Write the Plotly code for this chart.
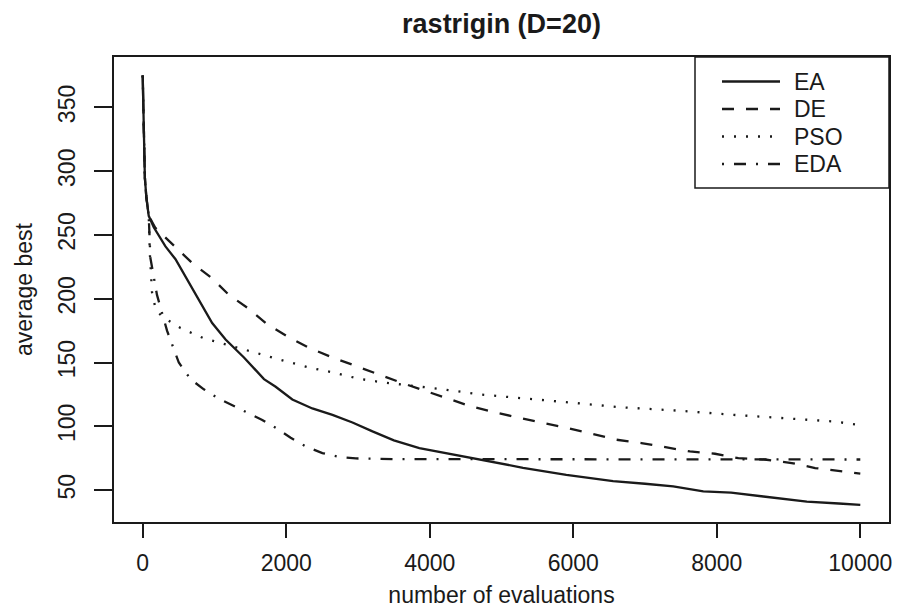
import plotly.graph_objects as go

# ---- data ----
ea_x = [0, 10, 20, 30, 50, 84, 154, 317, 457, 619, 782, 968, 1155, 1411, 1690, 1853, 2085,
        2364, 2644, 2923, 3202, 3500, 3855, 4228, 4500, 4832, 5300, 5903, 6555, 7000, 7393,
        7812, 8200, 8650, 9255, 9700, 10000]
ea_y = [375, 345, 315, 295, 280, 265, 256, 241, 231, 215, 199, 181, 168, 154, 137, 131, 121,
        114, 109, 103, 96, 89, 83, 79, 76, 72.5, 67.5, 62, 57, 55, 53, 49, 48, 45, 41, 39.5, 38.5]

de_x = [0, 10, 20, 30, 50, 84, 177, 433, 689, 968, 1201, 1457, 1736, 2015, 2318, 2621, 2961,
        3272, 3613, 3925, 4250, 4576, 4902, 5251, 5577, 5926, 6275, 6601, 6950, 7300, 7626,
        7975, 8300, 8696, 9045, 9371, 9744, 10000]
de_y = [375, 345, 315, 295, 280, 265, 255.5, 242, 228, 216, 203, 193, 180, 170.5, 161.5, 154.5,
        147.5, 140.5, 134, 128, 122, 115.6, 111, 106.5, 102.6, 98.6, 94.2, 89.5, 86.9, 83.7,
        80.3, 78.5, 75.1, 73.8, 71.2, 67.3, 64.6, 63]

pso_x = [0, 10, 20, 30, 50, 84, 100, 130, 180, 270, 527, 852, 1341, 1666, 1993, 2328, 2668,
         3007, 3352, 3800, 4228, 4700, 5251, 5950, 6647, 7486, 8230, 8928, 9627, 10000]
pso_y = [375, 345, 315, 295, 280, 265, 235, 205, 192, 186, 177, 169, 161.4, 156, 151, 146, 142,
         137.3, 134.4, 131.5, 128.7, 125, 122, 118.7, 115, 112.2, 109, 106.5, 103.8, 101]

eda_x = [0, 10, 20, 30, 50, 84, 107, 199, 339, 503, 666, 852, 1051, 1271, 1471, 1666, 1876,
         2062, 2281, 2504, 2737, 2970, 3500, 10000]
eda_y = [375, 345, 315, 295, 280, 265, 232, 203, 175, 150, 137, 129, 122, 116, 110.5, 105, 98,
         91, 84, 79, 76, 74.8, 74.3, 74]

series_names = ["EA", "DE", "PSO", "EDA"]
x_ticks = [0, 2000, 4000, 6000, 8000, 10000]
y_ticks = [50, 100, 150, 200, 250, 300, 350]

FONT = "Liberation Sans, Arial, Helvetica, sans-serif"
INK = "#1a1a1a"
LW = 2.3

styles = {
    "EA": "solid",
    "DE": "12px,12px",
    "PSO": "2px,10px",
    "EDA": "2px,10px,12px,10px",
}
data = {
    "EA": (ea_x, ea_y),
    "DE": (de_x, de_y),
    "PSO": (pso_x, pso_y),
    "EDA": (eda_x, eda_y),
}

fig = go.Figure()
for name in series_names:
    xs, ys = data[name]
    fig.add_trace(go.Scatter(
        x=xs, y=ys, mode="lines", name=name, showlegend=False,
        line=dict(color=INK, width=LW, dash=styles[name]),
    ))

# ---- legend box drawn in paper coordinates (R-style legend) ----
L, R, T, B = 114, 889, 57, 522
W, H = R - L, B - T
def px(xp):
    return (xp - L) / W
def py(yp):
    return (B - yp) / H

fig.add_shape(type="rect", xref="paper", yref="paper",
              x0=px(695), x1=1.0, y0=py(188), y1=1.0,
              line=dict(color=INK, width=1.5), fillcolor="white", layer="above")
legend_rows = [81.5, 109, 136.5, 164]
for name, yrow in zip(series_names, legend_rows):
    fig.add_shape(type="line", xref="paper", yref="paper",
                  x0=px(722), x1=px(780), y0=py(yrow), y1=py(yrow),
                  line=dict(color=INK, width=LW, dash=styles[name]), layer="above")
    fig.add_annotation(xref="paper", yref="paper", x=px(792), y=py(yrow),
                       xanchor="left", yanchor="middle", showarrow=False,
                       text=name, font=dict(size=23, color=INK, family=FONT))

fig.update_layout(
    width=899, height=608,
    margin=dict(l=L, r=899 - R, t=T, b=608 - B, autoexpand=False),
    paper_bgcolor="white", plot_bgcolor="white",
    font=dict(family=FONT, size=23, color=INK),
    title=dict(text="<b>rastrigin (D=20)</b>", x=(L + R) / 2 / 899, xanchor="center",
               y=1 - 24 / 608, yanchor="middle", font=dict(size=27, color=INK)),
    showlegend=False,
)
fig.update_xaxes(
    range=[-400, 10400], tickvals=x_ticks, ticktext=[str(v) for v in x_ticks],
    showgrid=False, zeroline=False, automargin=False,
    showline=True, mirror=True, linecolor=INK, linewidth=1.5,
    ticks="outside", ticklen=14, tickwidth=1.5, tickcolor=INK,
    ticklabelstandoff=6,
    title=dict(text="number of evaluations", font=dict(size=23), standoff=16),
)
fig.update_yaxes(
    range=[25, 389.5], tickvals=y_ticks, ticktext=[str(v) for v in y_ticks],
    showgrid=False, zeroline=False, automargin=False,
    showline=True, mirror=True, linecolor=INK, linewidth=1.5,
    ticks="outside", ticklen=18, tickwidth=1.5, tickcolor=INK,
    tickangle=-90, ticklabelstandoff=10,
    title=dict(text="average best", font=dict(size=23), standoff=15),
)

fig.write_html("out.html")
